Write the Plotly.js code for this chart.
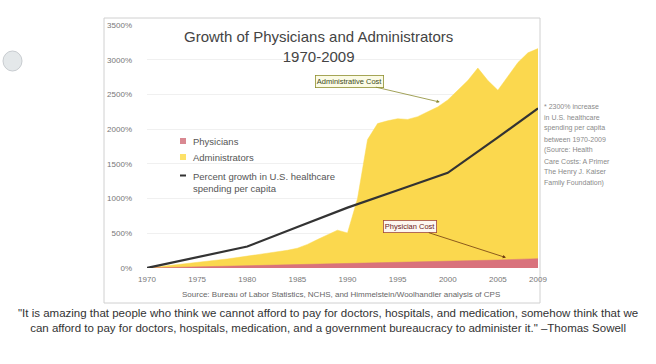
<!DOCTYPE html>
<html>
<head>
<meta charset="utf-8">
<script src="https://cdn.plot.ly/plotly-3.0.1.min.js"></script>
<style>
html,body{margin:0;padding:0;background:#fff;}
#chart{width:656px;height:364px;}
</style>
</head>
<body>
<div id="chart"></div>
<script>
// ---- data ----
const years = [1970,1971,1972,1973,1974,1975,1976,1977,1978,1979,
               1980,1981,1982,1983,1984,1985,1986,1987,1988,1989,
               1990,1991,1992,1993,1994,1995,1996,1997,1998,1999,
               2000,2001,2002,2003,2004,2005,2006,2007,2008,2009];
const administrators = [0,15,32,50,68,85,100,115,130,150,
                        170,190,210,230,255,285,340,410,475,545,
                        505,1000,1850,2080,2120,2150,2140,2180,2250,2320,
                        2420,2560,2700,2880,2700,2560,2760,2960,3100,3160];
const physicians = [0,3,6,10,13,17,20,24,27,31,
                    35,38,41,44,47,50,53,56,59,62,
                    65,68,71,74,77,80,83,86,89,92,
                    95,99,103,107,111,115,120,125,130,135];
const spendingYears = [1970,1975,1980,1985,1990,1995,2000,2005,2009];
const spending = [0,160,310,590,870,1120,1370,1880,2300];

const xTicks = [1970,1975,1980,1985,1990,1995,2000,2005,2009];
const yTicks = [0,500,1000,1500,2000,2500,3000,3500];
const yTickText = yTicks.map(v => v + '%');

const titleText = 'Growth of Physicians and Administrators<br>1970-2009';
const legendLabels = ['Physicians','Administrators','Percent growth in U.S. healthcare<br>spending per capita'];
const sourceText = 'Source: Bureau of Labor Statistics, NCHS, and Himmelstein/Woolhandler analysis of CPS';
const noteLines = ['* 2300% increase','in U.S. healthcare','spending per capita','between 1970-2009',
                   '(Source: Health','Care Costs: A Primer','The Henry J. Kaiser','Family Foundation)'];
const quoteText = '"It is amazing that people who think we cannot afford to pay for doctors, hospitals, and medication, somehow think that we<br>can afford to pay for doctors, hospitals, medication, and a government bureaucracy to administer it." \u2013Thomas Sowell';

const cYellow = '#fbd84e';
const cPink = '#d9727c';
const cLine = '#333333';

const traces = [
  {x: years, y: administrators, type:'scatter', mode:'lines', fill:'tozeroy',
   fillcolor: cYellow, line:{color: cYellow, width:0.5}, name:'Administrators', hoverinfo:'skip'},
  {x: years, y: physicians, type:'scatter', mode:'lines', fill:'tozeroy',
   fillcolor: cPink, line:{color: cPink, width:0.5}, name:'Physicians', hoverinfo:'skip'},
  {x: spendingYears, y: spending, type:'scatter', mode:'lines',
   line:{color: cLine, width:2.2}, name:'Percent growth', hoverinfo:'skip'}
];

// paper helpers (plot area: x 147..538 px, y 25..268 px)
const L=147, R=538, T=25, B=268;
const px = v => (v-L)/(R-L);
const py = v => (B-v)/(B-T);

const fontMain = 'Liberation Sans, Arial, sans-serif';

const annotations = [
  {text:titleText, xref:'paper', yref:'paper', x:px(318), y:py(46), xanchor:'center', yanchor:'middle',
   showarrow:false, font:{family:fontMain, size:15, color:'#444'}},
  {text:legendLabels[0], xref:'paper', yref:'paper', x:px(191), y:py(141), xanchor:'left', yanchor:'middle',
   showarrow:false, font:{size:9.5, color:'#555'}},
  {text:legendLabels[1], xref:'paper', yref:'paper', x:px(191), y:py(157), xanchor:'left', yanchor:'middle',
   showarrow:false, font:{size:9.5, color:'#555'}},
  {text:legendLabels[2], xref:'paper', yref:'paper', x:px(191), y:py(182), xanchor:'left', yanchor:'middle',
   align:'left', showarrow:false, font:{size:9.5, color:'#555'}},
  {text:'Administrative Cost', x:1999.2, y:2390, ax:-90, ay:-21,
   showarrow:true, arrowhead:2, arrowsize:0.8, arrowwidth:0.8, arrowcolor:'#8a8a30',
   bgcolor:'#fbfbe6', bordercolor:'#8f8f30', borderwidth:0.8, borderpad:1,
   font:{size:7.5, color:'#3d4a20'}},
  {text:'Physician Cost', x:2005.8, y:150, ax:-96, ay:-31,
   showarrow:true, arrowhead:2, arrowsize:0.8, arrowwidth:0.8, arrowcolor:'#6e3a10',
   bgcolor:'#fdf7f0', bordercolor:'#a04a40', borderwidth:0.8, borderpad:1,
   font:{size:7.5, color:'#6a2018'}},
  {text:sourceText, xref:'paper', yref:'paper', x:px(341), y:py(294), xanchor:'center', yanchor:'middle',
   showarrow:false, font:{size:8, color:'#666'}},
  {text:quoteText, xref:'paper', yref:'paper', x:px(328), y:py(320), xanchor:'center', yanchor:'middle',
   showarrow:false, align:'center',
   font:{family:fontMain, size:11.5, color:'#333'}}
];
noteLines.forEach((t, i) => {
  annotations.push({text:t, xref:'paper', yref:'paper', x:px(542), y:py(106 + i*11), xanchor:'left', yanchor:'middle',
    showarrow:false, font:{size:7, color:'#8a8a8a'}});
});

const layout = {
  width:656, height:364,
  margin:{l:L, r:656-R, t:T, b:364-B},
  paper_bgcolor:'#ffffff', plot_bgcolor:'rgba(0,0,0,0)',
  showlegend:false,
  font:{family: fontMain, color:'#666', size:8},
  xaxis:{range:[1970,2009], tickvals:xTicks, ticktext:xTicks.map(String),
         showgrid:false, zeroline:false, showline:false, ticks:'',
         ticklabelstandoff:5,
         tickfont:{size:8, color:'#777'}, fixedrange:true},
  yaxis:{range:[0,3500], tickvals:yTicks, ticktext:yTickText,
         showgrid:true, gridcolor:'#f0f0f0', gridwidth:1, zeroline:false, showline:false, ticks:'',
         ticklabelstandoff:14,
         tickfont:{size:8, color:'#777'}, fixedrange:true},
  shapes:[
    {type:'rect', xref:'paper', yref:'paper', x0:px(104), x1:px(540), y0:py(303), y1:py(18),
     line:{color:'#d0d0d0', width:1}, fillcolor:'rgba(0,0,0,0)', layer:'below'},
    {type:'rect', xref:'paper', yref:'paper', x0:px(180), x1:px(186), y0:py(144), y1:py(138),
     line:{width:0}, fillcolor:'#d98891'},
    {type:'rect', xref:'paper', yref:'paper', x0:px(180), x1:px(186), y0:py(160), y1:py(154),
     line:{width:0}, fillcolor:'#fde168'},
    {type:'line', xref:'paper', yref:'paper', x0:px(180), x1:px(186), y0:py(175.5), y1:py(175.5),
     line:{color:'#333', width:2}},
    {type:'circle', xref:'paper', yref:'paper', x0:px(3), x1:px(22), y0:py(71), y1:py(51),
     line:{color:'#c8ccd0', width:1}, fillcolor:'#e4e8ea'}
  ],
  annotations: annotations
};

Plotly.newPlot('chart', traces, layout, {staticPlot:true, displayModeBar:false});
</script>
</body>
</html>
